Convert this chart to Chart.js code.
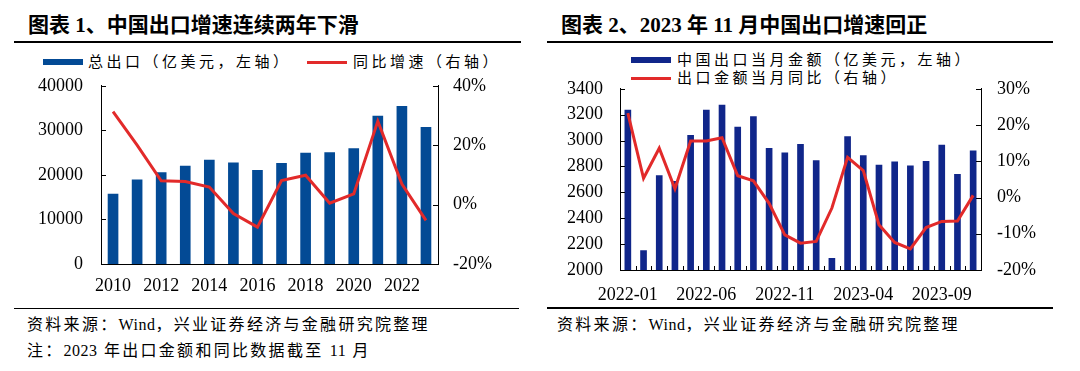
<!DOCTYPE html>
<html>
<head>
<meta charset="utf-8">
<script src="https://cdn.jsdelivr.net/npm/chart.js@4/dist/chart.umd.min.js"></script>
<style>
  html, body { margin: 0; padding: 0; background: #fff; }
  body { width: 1080px; height: 371px; position: relative; overflow: hidden;
         font-family: "Liberation Serif", "Noto Sans CJK SC", serif; color: #000; }
  .title { position: absolute; top: 11px; font-size: 21px; font-weight: bold; white-space: nowrap;
           font-family: "Liberation Serif", "Noto Sans CJK SC", serif; line-height: 28px; }
  .rule { position: absolute; background: #000; }
  .legend { position: absolute; font-size: 15px; letter-spacing: 3.5px; white-space: nowrap; line-height: 18px; }
  .sw { position: absolute; width: 40px; }
  .note { position: absolute; font-size: 16px; letter-spacing: 2.3px; white-space: nowrap; line-height: 20px; }
  .note b { font-weight: normal; letter-spacing: 0.5px; }
  canvas { position: absolute; }
</style>
</head>
<body>
<div class="title" style="left:28px">图表 1、中国出口增速连续两年下滑</div>
<div class="rule" style="left:14px; top:41px; width:507px; height:2px"></div>
<div class="sw" style="left:43px; top:59px; height:6px; background:#034a95"></div>
<div class="legend" style="left:88px; top:53px">总出口（亿美元，左轴）</div>
<div class="sw" style="left:307px; top:61px; height:3px; background:#e22a2a"></div>
<div class="legend" style="left:353px; top:53px">同比增速（右轴）</div>

<div class="title" style="left:561px">图表 2、2023 年 11 月中国出口增速回正</div>
<div class="rule" style="left:547px; top:41px; width:506px; height:2px"></div>
<div class="sw" style="left:631px; top:57px; height:6px; background:#10268a"></div>
<div class="legend" style="left:677px; top:51px">中国出口当月金额（亿美元，左轴）</div>
<div class="sw" style="left:631px; top:77px; height:3px; background:#e22a2a"></div>
<div class="legend" style="left:677px; top:69px">出口金额当月同比（右轴）</div>

<canvas id="c1" width="540" height="253" style="left:0; top:57px"></canvas>
<canvas id="c2" width="540" height="249" style="left:540px; top:61px"></canvas>

<div class="rule" style="left:14px; top:308px; width:505px; height:1px"></div>
<div class="rule" style="left:547px; top:307px; width:506px; height:2px"></div>
<div class="note" style="left:27px; top:315px">资料来源：<b>Wind</b>，兴业证券经济与金融研究院整理</div>
<div class="note" style="left:27px; top:341px">注：<b>2023</b> 年出口金额和同比数据截至 <b>11</b> 月</div>
<div class="note" style="left:557px; top:315px">资料来源：<b>Wind</b>，兴业证券经济与金融研究院整理</div>

<script>
// chart 1: yearly exports
const years = ['2010', '2011', '2012', '2013', '2014', '2015', '2016', '2017', '2018', '2019', '2020', '2021', '2022', '2023'];
const totalExports = [15700, 18900, 20500, 22000, 23300, 22700, 21000, 22600, 24900, 25000, 25900, 33200, 35400, 30700];
const yearGrowth = [31.3, 20.0, 8.0, 7.8, 5.9, -3.0, -7.6, 8.1, 9.9, 0.5, 3.6, 28.1, 6.9, -5.3];

// chart 2: monthly exports
const months = ['2022-01', '2022-02', '2022-03', '2022-04', '2022-05', '2022-06', '2022-07', '2022-08',
  '2022-09', '2022-10', '2022-11', '2022-12', '2023-01', '2023-02', '2023-03', '2023-04', '2023-05',
  '2023-06', '2023-07', '2023-08', '2023-09', '2023-10', '2023-11'];
const monthExports = [3235, 2150, 2730, 2685, 3040, 3235, 3275, 3105, 3185, 2940, 2905, 2970,
  2845, 2090, 3030, 2885, 2810, 2835, 2805, 2840, 2965, 2740, 2920];
const monthGrowth = [23.3, 5.3, 13.6, 2.4, 15.6, 15.6, 16.5, 6.0, 4.6, -1.6, -10.3, -12.6,
  -12.1, -2.9, 11.1, 7.4, -7.5, -12.4, -14.2, -8.3, -6.6, -6.5, 0.6];

Chart.defaults.font.family = '"Liberation Serif", "Times New Roman", serif';
Chart.defaults.font.size = 18;
Chart.defaults.color = '#000';
Chart.defaults.animation = false;

// short tick marks pointing into the plot area
const innerTicks = {
  id: 'innerTicks',
  afterDraw(chart, args, opts) {
    const ctx = chart.ctx;
    const a = chart.chartArea;
    ctx.save();
    ctx.strokeStyle = '#000';
    ctx.lineWidth = 1;
    ctx.beginPath();
    ['y', 'y1'].forEach(id => {
      const s = chart.scales[id];
      s.ticks.forEach((t, i) => {
        const py = Math.round(s.getPixelForTick(i)) + 0.5;
        const x0 = id === 'y' ? a.left : a.right;
        ctx.moveTo(x0, py);
        ctx.lineTo(x0 + (id === 'y' ? 5 : -5), py);
      });
    });
    if (opts.xTicks) {
      const s = chart.scales.x;
      const n = chart.data.labels.length;
      for (let i = 0; i <= n; i++) {
        const px = Math.round(s.getPixelForValue(i - 0.5)) + 0.5;
        ctx.moveTo(px, a.bottom);
        ctx.lineTo(px, a.bottom - 4);
      }
    }
    ctx.stroke();
    ctx.restore();
  }
};

function fixSize(prop, v) {
  return function (scale) { scale[prop] = v; };
}

function makeChart(id, cfg) {
  const axisBorder = { display: true, color: '#000', width: 1 };
  return new Chart(document.getElementById(id), {
    type: 'bar',
    data: {
      labels: cfg.labels,
      datasets: [
        { type: 'line', data: cfg.line, yAxisID: 'y1', borderColor: '#e22a2a', borderWidth: 3,
          pointRadius: 0, tension: 0, order: 0 },
        { type: 'bar', data: cfg.bars, yAxisID: 'y', backgroundColor: cfg.barColor,
          barThickness: cfg.barW, order: 1 }
      ]
    },
    options: {
      responsive: false,
      layout: { padding: 0 },
      plugins: { legend: { display: false }, tooltip: { enabled: false }, innerTicks: { xTicks: cfg.xTicks } },
      scales: {
        x: {
          grid: { display: false, drawTicks: false },
          border: axisBorder,
          ticks: { autoSkip: false, maxRotation: 0, padding: cfg.xPad,
                   callback: (v, i) => i % cfg.every === 0 ? cfg.labels[i] : '' },
          afterFit: fixSize('height', cfg.xH)
        },
        y: {
          position: 'left', min: cfg.yMin, max: cfg.yMax,
          grid: { display: false, drawTicks: false },
          border: axisBorder,
          ticks: { stepSize: cfg.yStep, padding: cfg.yPad, callback: v => String(v) },
          afterFit: fixSize('width', cfg.yW)
        },
        y1: {
          position: 'right', min: cfg.rMin, max: cfg.rMax,
          grid: { display: false, drawTicks: false },
          border: axisBorder,
          ticks: { stepSize: cfg.rStep, padding: cfg.rPad, callback: v => v + '%' },
          afterFit: fixSize('width', cfg.rW)
        }
      }
    },
    plugins: [innerTicks]
  });
}

makeChart('c1', {
  labels: years, bars: totalExports, line: yearGrowth, barColor: '#034a95', barW: 10,
  xH: 46, yW: 101, rW: 102, xPad: 11, yPad: 18, rPad: 15, every: 2, xTicks: false,
  yMin: 0, yMax: 40000, yStep: 10000, rMin: -20, rMax: 40, rStep: 20
});

makeChart('c2', {
  labels: months, bars: monthExports, line: monthGrowth, barColor: '#10268a', barW: 6,
  xH: 40, yW: 80, rW: 99, xPad: 14, yPad: 17, rPad: 16, every: 5, xTicks: true,
  yMin: 2000, yMax: 3400, yStep: 200, rMin: -20, rMax: 30, rStep: 10
});
</script>
</body>
</html>
